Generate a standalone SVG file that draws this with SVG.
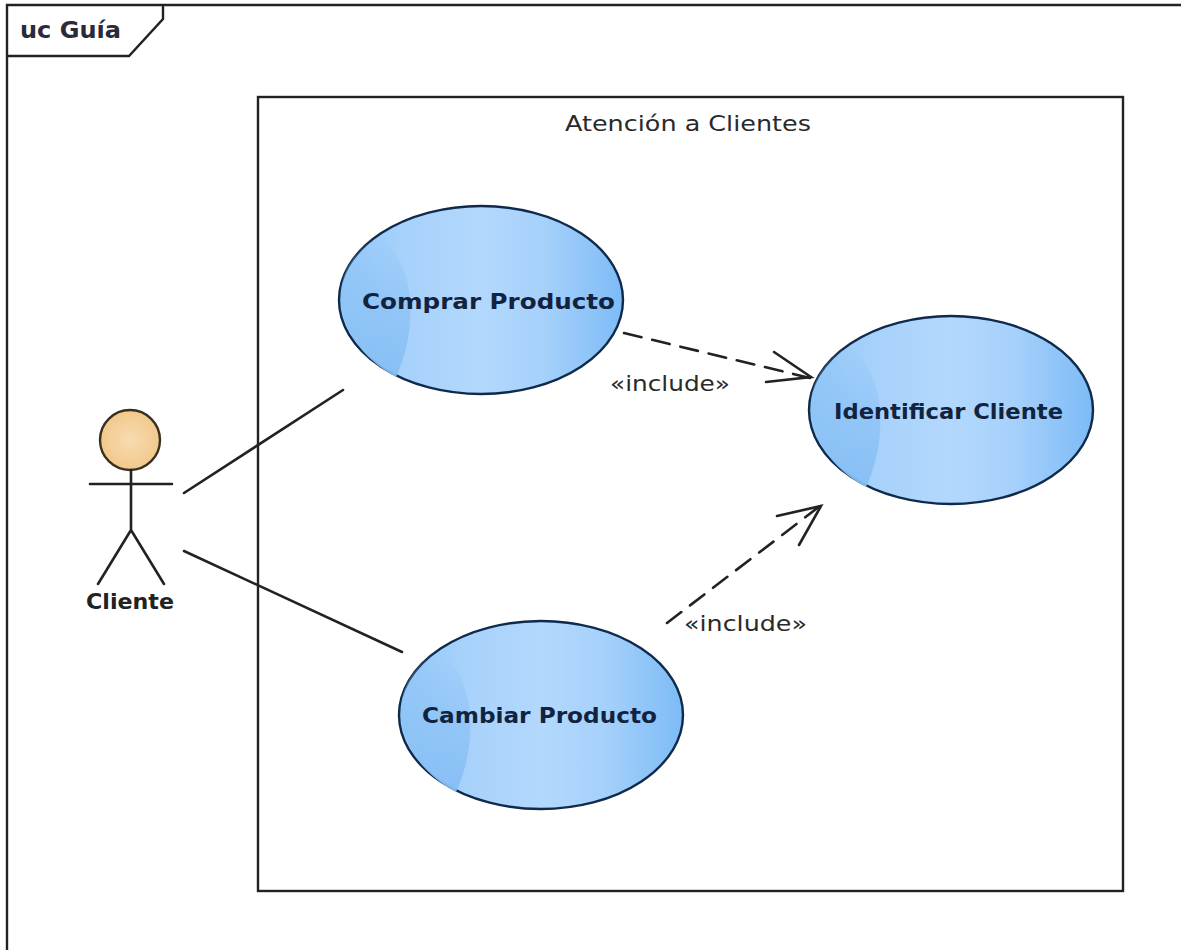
<svg xmlns="http://www.w3.org/2000/svg" width="1181" height="950" viewBox="0 0 1181 950">
<style>
.frame{fill:none;stroke:#222;stroke-width:2.4}
.uc{fill:url(#ucFill);stroke:#0f2a4a;stroke-width:2.4}
.shade{fill:url(#shadeFill)}
.ln{fill:none;stroke:#222;stroke-width:2.6;stroke-linecap:round}
.dash{stroke-dasharray:18 11}
text{font-family:"DejaVu Sans","Liberation Sans",sans-serif;fill:#2a2a2a}
.b{font-weight:700;font-size:22px;fill:#12233f}
.t{font-size:22px}
</style>
<defs>
<linearGradient id="ucFill" x1="0" y1="0" x2="1" y2="0">
<stop offset="0" stop-color="#93c8f8"/><stop offset=".25" stop-color="#a8d2fb"/><stop offset=".5" stop-color="#b3d8fd"/><stop offset=".72" stop-color="#a6d1fb"/><stop offset="1" stop-color="#7dbbf6"/>
</linearGradient>
<linearGradient id="shadeFill" x1="0" y1="0" x2="0" y2="1">
<stop offset="0" stop-color="#8cc2f6" stop-opacity="0"/><stop offset=".5" stop-color="#8cc2f6" stop-opacity=".7"/><stop offset="1" stop-color="#86bef5" stop-opacity=".95"/>
</linearGradient>
<radialGradient id="headFill"><stop offset="0" stop-color="#f8dcb0"/><stop offset="1" stop-color="#f2c88c"/></radialGradient>
</defs>
<g id="frame">
<path class="frame" d="M7 950V5H1181"/>
<path class="frame" d="M7 56H129L163 19V5"/>
<text x="20" y="38" font-size="23" font-weight="700" textLength="101" lengthAdjust="spacingAndGlyphs" style="fill:#2a2a3a">uc Guía</text>
</g>
<g id="boundary">
<rect class="frame" x="258" y="97" width="865" height="794"/>
<text class="t" x="565" y="131" textLength="246" lengthAdjust="spacingAndGlyphs">Atención a Clientes</text>
</g>
<g id="uc-comprar">
<ellipse class="uc" cx="481" cy="300" rx="142" ry="94"/>
<path class="shade" d="M341 290C339 325 360 358 396 377C408 350 414 320 408 285C403 262 392 245 378 235C355 250 343 270 341 290Z"/>
<text class="b" x="362" y="309" textLength="253" lengthAdjust="spacingAndGlyphs">Comprar Producto</text>
</g>
<g id="uc-identificar">
<ellipse class="uc" cx="951" cy="410" rx="142" ry="94"/>
<path class="shade" d="M811 400C809 435 830 468 866 487C878 460 884 430 878 395C873 372 862 355 848 345C825 360 813 380 811 400Z"/>
<text class="b" x="834" y="419" textLength="229" lengthAdjust="spacingAndGlyphs">Identificar Cliente</text>
</g>
<g id="uc-cambiar">
<ellipse class="uc" cx="541" cy="715" rx="142" ry="94"/>
<path class="shade" d="M401 705C399 740 420 773 456 792C468 765 474 735 468 700C463 677 452 660 438 650C415 665 403 685 401 705Z"/>
<text class="b" x="422" y="723" textLength="235" lengthAdjust="spacingAndGlyphs">Cambiar Producto</text>
</g>
<g id="actor-cliente">
<circle cx="130" cy="440" r="30" fill="url(#headFill)" stroke="#3a3020" stroke-width="2.4"/>
<path class="ln" d="M131 470V530M90 484H172M131 530L98 584M131 530L164 584"/>
<text class="b" x="86" y="609" textLength="88" lengthAdjust="spacingAndGlyphs" style="fill:#222">Cliente</text>
</g>
<g id="connectors">
<path class="ln" d="M184 493L343 390"/>
<path class="ln" d="M184 551L402 652"/>
<path class="ln dash" d="M624 333L810 378"/>
<path class="ln" d="M774 352L811 377L766 382"/>
<path class="ln dash" d="M667 623L820 506"/>
<path class="ln" d="M777 516L821 506L799 545"/>
<text class="t" x="610" y="391" textLength="120" lengthAdjust="spacingAndGlyphs">«include»</text>
<text class="t" x="684" y="631" textLength="123" lengthAdjust="spacingAndGlyphs">«include»</text>
</g>
</svg>
